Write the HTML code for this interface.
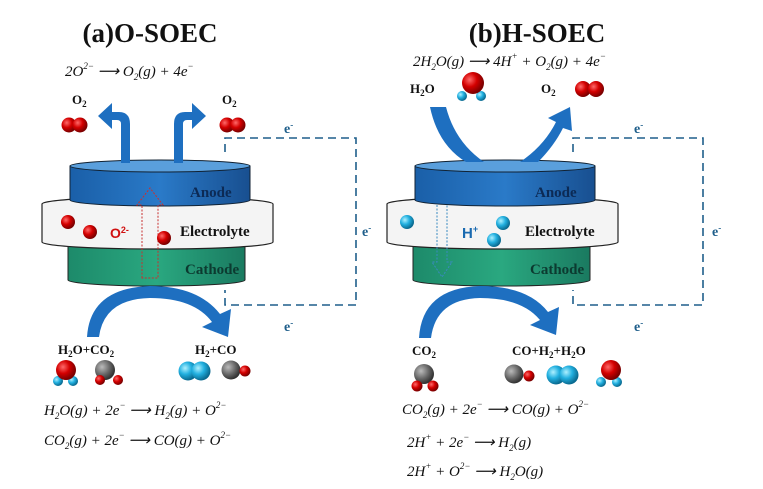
<!DOCTYPE html>
<html><head><meta charset="utf-8"><style>
html,body{margin:0;padding:0;background:#fff;}
svg{display:block;}
.t{font-family:"Liberation Serif",serif;font-weight:bold;}
.eq{font-family:"Liberation Serif",serif;font-style:italic;font-size:15px;fill:#111;}
.lb{font-family:"Liberation Serif",serif;font-weight:bold;font-size:13px;fill:#111;}
.e{font-family:"Liberation Serif",serif;font-weight:bold;font-size:14px;fill:#1f5f8b;}
</style></head><body>
<svg width="763" height="489" viewBox="0 0 763 489" xmlns="http://www.w3.org/2000/svg">
<defs>
<radialGradient id="red" cx="35%" cy="35%" r="65%"><stop offset="0" stop-color="#ff6a6a"/><stop offset="0.5" stop-color="#d40000"/><stop offset="1" stop-color="#7a0000"/></radialGradient>
<radialGradient id="cy" cx="35%" cy="35%" r="65%"><stop offset="0" stop-color="#aef0ff"/><stop offset="0.5" stop-color="#22b0e0"/><stop offset="1" stop-color="#0a6a90"/></radialGradient>
<radialGradient id="gr" cx="35%" cy="35%" r="65%"><stop offset="0" stop-color="#bbb"/><stop offset="0.6" stop-color="#666"/><stop offset="1" stop-color="#333"/></radialGradient>
<linearGradient id="an" x1="0" y1="0" x2="1" y2="0"><stop offset="0" stop-color="#1a5fa8"/><stop offset="0.5" stop-color="#2a7ac8"/><stop offset="1" stop-color="#184f90"/></linearGradient>
<linearGradient id="ca" x1="0" y1="0" x2="1" y2="0"><stop offset="0" stop-color="#1d8a6a"/><stop offset="0.5" stop-color="#2aa880"/><stop offset="1" stop-color="#1a7a60"/></linearGradient>
<g id="cell">
  <path d="M68 245 L68 280 A88 6 0 0 0 245 280 L245 245 Z" fill="url(#ca)" stroke="#222" stroke-width="1"/>
  <path d="M42 204 L42 242 A115 7 0 0 0 273 242 L273 204 A115 7 0 0 0 42 204 Z" fill="#f4f4f4" stroke="#222" stroke-width="1.2"/>
  <path d="M70 166 L70 200 A90 6 0 0 0 250 200 L250 166 Z" fill="url(#an)" stroke="#123" stroke-width="1"/>
  <ellipse cx="160" cy="166" rx="90" ry="6" fill="#5a9fdc" stroke="#123" stroke-width="1"/>
  <text x="190" y="197" class="t" font-size="15" fill="#0c2a55">Anode</text>
  <text x="180" y="236" class="t" font-size="15" fill="#111">Electrolyte</text>
  <text x="185" y="274" class="t" font-size="15" fill="#0c3a30">Cathode</text>
</g>
</defs>

<text x="150" y="42" class="t" font-size="27" text-anchor="middle" fill="#111">(a)O-SOEC</text>
<text x="65" y="76" class="eq">2O<tspan font-size="9" dy="-7">2−</tspan><tspan dy="7"> ⟶ O</tspan><tspan font-size="9" dy="4">2</tspan><tspan dy="-4">(g) + 4e</tspan><tspan font-size="9" dy="-7">−</tspan></text>
<text x="72" y="104" class="lb">O<tspan font-size="9" dy="3">2</tspan></text>
<text x="222" y="104" class="lb">O<tspan font-size="9" dy="3">2</tspan></text>
<circle cx="69" cy="125" r="7.5" fill="url(#red)"/><circle cx="80" cy="125" r="7.5" fill="url(#red)"/>
<circle cx="227" cy="125" r="7.5" fill="url(#red)"/><circle cx="238" cy="125" r="7.5" fill="url(#red)"/>

<use href="#cell"/>
<path d="M130 163 L130 124 Q130 112 119 112 L112 112 L112 103 L98 116 L112 129 L112 120 L117 120 Q121 120 121 124 L121 163 Z" fill="#1e6fc0"/>
<path d="M174 163 L174 124 Q174 112 185 112 L192 112 L192 103 L206 116 L192 129 L192 120 L187 120 Q183 120 183 124 L183 163 Z" fill="#1e6fc0"/>
<path d="M142 278 L142 205 L137 205 L150 188 L163 205 L158 205 L158 278 Z" fill="none" stroke="#c83030" stroke-width="1" stroke-dasharray="2,1.5"/>
<circle cx="68" cy="222" r="7" fill="url(#red)"/><circle cx="90" cy="232" r="7" fill="url(#red)"/><circle cx="164" cy="238" r="7" fill="url(#red)"/>
<text x="110" y="238" font-family="Liberation Sans,sans-serif" font-weight="bold" font-size="14" fill="#d01010">O<tspan font-size="9" dy="-5">2-</tspan></text>
<path d="M225 152 L225 138 L356 138 L356 305 L225 305 L225 290" fill="none" stroke="#1f5f8b" stroke-width="1.6" stroke-dasharray="8,5"/>
<text x="284" y="133" class="e">e<tspan font-size="9" dy="-5">-</tspan></text>
<text x="362" y="236" class="e">e<tspan font-size="9" dy="-5">-</tspan></text>
<text x="284" y="331" class="e">e<tspan font-size="9" dy="-5">-</tspan></text>
<path d="M87 337 Q90 288 150 286 Q198 286 220 314 L231 309 L228 337 L202 327 L212 322 Q194 298 150 298 Q104 299 99 337 Z" fill="#1e6fc0"/>
<text x="58" y="354" class="lb">H<tspan font-size="9" dy="3">2</tspan><tspan dy="-3">O+CO</tspan><tspan font-size="9" dy="3">2</tspan></text>
<text x="195" y="354" class="lb">H<tspan font-size="9" dy="3">2</tspan><tspan dy="-3">+CO</tspan></text>
<circle cx="58" cy="381" r="5" fill="url(#cy)"/><circle cx="73" cy="381" r="5" fill="url(#cy)"/><circle cx="66" cy="370" r="10" fill="url(#red)"/>
<circle cx="105" cy="370" r="10" fill="url(#gr)"/><circle cx="100" cy="380" r="5" fill="url(#red)"/><circle cx="118" cy="380" r="5" fill="url(#red)"/>
<circle cx="188" cy="371" r="9.5" fill="url(#cy)"/><circle cx="201" cy="371" r="9.5" fill="url(#cy)"/>
<circle cx="231" cy="370" r="9.5" fill="url(#gr)"/><circle cx="245" cy="371" r="5.5" fill="url(#red)"/>
<text x="44" y="415" class="eq">H<tspan font-size="9" dy="4">2</tspan><tspan dy="-4">O(g) + 2e</tspan><tspan font-size="9" dy="-7">−</tspan><tspan dy="7"> ⟶ H</tspan><tspan font-size="9" dy="4">2</tspan><tspan dy="-4">(g) + O</tspan><tspan font-size="9" dy="-7">2−</tspan></text>
<text x="44" y="445" class="eq">CO<tspan font-size="9" dy="4">2</tspan><tspan dy="-4">(g) + 2e</tspan><tspan font-size="9" dy="-7">−</tspan><tspan dy="7"> ⟶ CO(g) + O</tspan><tspan font-size="9" dy="-7">2−</tspan></text>

<text x="537" y="42" class="t" font-size="27" text-anchor="middle" fill="#111">(b)H-SOEC</text>
<text x="413" y="66" class="eq">2H<tspan font-size="9" dy="4">2</tspan><tspan dy="-4">O(g) ⟶ 4H</tspan><tspan font-size="9" dy="-7">+</tspan><tspan dy="7"> + O</tspan><tspan font-size="9" dy="4">2</tspan><tspan dy="-4">(g) + 4e</tspan><tspan font-size="9" dy="-7">−</tspan></text>
<text x="410" y="93" class="lb">H<tspan font-size="9" dy="3">2</tspan><tspan dy="-3">O</tspan></text>
<circle cx="462" cy="96" r="5" fill="url(#cy)"/><circle cx="481" cy="96" r="5" fill="url(#cy)"/><circle cx="473" cy="83" r="11" fill="url(#red)"/>
<text x="541" y="93" class="lb">O<tspan font-size="9" dy="3">2</tspan></text>
<circle cx="583" cy="89" r="8" fill="url(#red)"/><circle cx="596" cy="89" r="8" fill="url(#red)"/>

<use href="#cell" x="345"/>
<path d="M430 107 L446 107 Q455 142 484 162 L466 162 Q438 145 430 107 Z" fill="#1e6fc0"/>
<path d="M520 162 L538 162 Q554 146 563 128 L572 131 L570 107 L548 118 L556 122 Q544 146 520 162 Z" fill="#1e6fc0"/>
<path d="M437 205 L437 262 L432 262 L442 277 L452 262 L447 262 L447 205" fill="none" stroke="#3a8ac0" stroke-width="1" stroke-dasharray="2,1.5"/>
<circle cx="407" cy="222" r="7" fill="url(#cy)"/><circle cx="503" cy="223" r="7" fill="url(#cy)"/><circle cx="494" cy="240" r="7" fill="url(#cy)"/>
<text x="462" y="238" font-family="Liberation Sans,sans-serif" font-weight="bold" font-size="15" fill="#1a6ab0">H<tspan font-size="9" dy="-6">+</tspan></text>
<path d="M573 152 L573 138 L703 138 L703 305 L573 305 L573 290" fill="none" stroke="#1f5f8b" stroke-width="1.6" stroke-dasharray="8,5"/>
<text x="634" y="133" class="e">e<tspan font-size="9" dy="-5">-</tspan></text>
<text x="712" y="236" class="e">e<tspan font-size="9" dy="-5">-</tspan></text>
<text x="634" y="331" class="e">e<tspan font-size="9" dy="-5">-</tspan></text>
<path d="M419 338 Q422 288 480 286 Q528 286 548 312 L559 307 L556 335 L530 325 L540 320 Q522 298 480 298 Q436 299 431 338 Z" fill="#1e6fc0"/>
<text x="412" y="355" class="lb">CO<tspan font-size="9" dy="3">2</tspan></text>
<text x="512" y="355" class="lb">CO+H<tspan font-size="9" dy="3">2</tspan><tspan dy="-3">+H</tspan><tspan font-size="9" dy="3">2</tspan><tspan dy="-3">O</tspan></text>
<circle cx="424" cy="374" r="10" fill="url(#gr)"/><circle cx="417" cy="386" r="5.5" fill="url(#red)"/><circle cx="433" cy="386" r="5.5" fill="url(#red)"/>
<circle cx="514" cy="374" r="9.5" fill="url(#gr)"/><circle cx="529" cy="376" r="5.5" fill="url(#red)"/>
<circle cx="556" cy="375" r="9.5" fill="url(#cy)"/><circle cx="569" cy="375" r="9.5" fill="url(#cy)"/>
<circle cx="601" cy="382" r="5" fill="url(#cy)"/><circle cx="617" cy="382" r="5" fill="url(#cy)"/><circle cx="611" cy="370" r="10" fill="url(#red)"/>
<text x="402" y="414" class="eq">CO<tspan font-size="9" dy="4">2</tspan><tspan dy="-4">(g) + 2e</tspan><tspan font-size="9" dy="-7">−</tspan><tspan dy="7"> ⟶ CO(g) + O</tspan><tspan font-size="9" dy="-7">2−</tspan></text>
<text x="407" y="447" class="eq">2H<tspan font-size="9" dy="-7">+</tspan><tspan dy="7"> + 2e</tspan><tspan font-size="9" dy="-7">−</tspan><tspan dy="7"> ⟶ H</tspan><tspan font-size="9" dy="4">2</tspan><tspan dy="-4">(g)</tspan></text>
<text x="407" y="476" class="eq">2H<tspan font-size="9" dy="-7">+</tspan><tspan dy="7"> + O</tspan><tspan font-size="9" dy="-7">2−</tspan><tspan dy="7"> ⟶ H</tspan><tspan font-size="9" dy="4">2</tspan><tspan dy="-4">O(g)</tspan></text>
</svg>
</body></html>
